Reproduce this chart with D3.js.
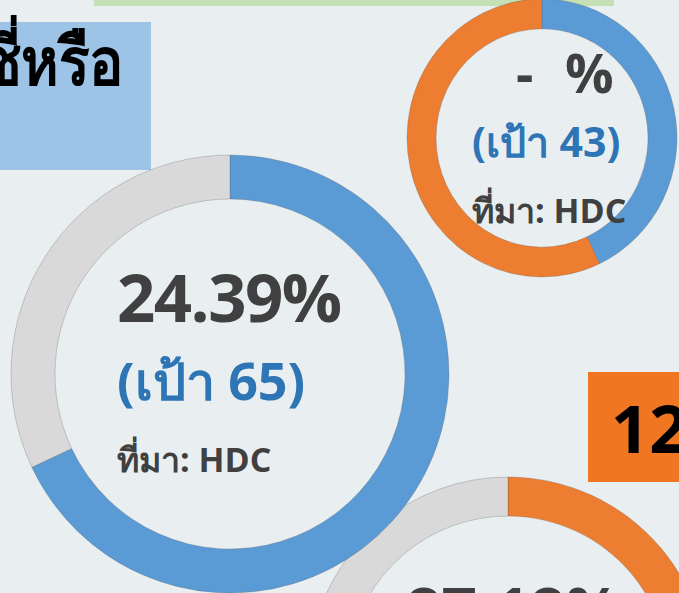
<!DOCTYPE html>
<html>
<head>
<meta charset="utf-8">
<script src="https://cdn.jsdelivr.net/npm/d3@7/dist/d3.min.js"></script>
<style>
  html, body { margin: 0; padding: 0; background: #e9eef0; }
  svg { display: block; }
  text { font-family: "Open Sans", "Noto Sans", sans-serif; font-weight: 700; }
</style>
</head>
<body>
<svg id="chart" width="679" height="593"></svg>
<script>
// ---- data ----
const mainDonutValues = [68, 32];          // blue achieved, gray remainder
const mainDonutColors = ["#5b9bd5", "#d9d9d9"];
const mainLabel = "24.39%";
const mainTarget = "(เป้า 65)";

const smallDonutValues = [43, 57];         // blue, orange
const smallDonutColors = ["#5b9bd5", "#ed7d31"];
const smallTarget = "(เป้า 43)";

const bottomDonutValues = [55, 45];        // orange, gray
const bottomDonutColors = ["#ed7d31", "#d9d9d9"];
const bottomLabel = "87.18%";

const sourceLabel = "ที่มา: HDC";
const headerText = "ซี่หรือ";
const badgeText = "12";

const svg = d3.select("#chart");
svg.append("rect").attr("width", 679).attr("height", 593).attr("fill", "#e9eef0");

// top green bar
svg.append("rect").attr("x", 94).attr("y", 0).attr("width", 520).attr("height", 6).attr("fill", "#c5e0b4");

// blue header box
svg.append("rect").attr("x", 0).attr("y", 22).attr("width", 151).attr("height", 148).attr("fill", "#9dc3e6");
svg.append("text").attr("transform", "translate(123,85) scale(0.92,1.08)").attr("text-anchor", "end")
  .attr("font-size", 62).attr("fill", "#000").text(headerText);

// orange badge
svg.append("rect").attr("x", 588).attr("y", 372).attr("width", 100).attr("height", 110).attr("fill", "#f07622");
svg.append("text").attr("x", 611).attr("y", 453).attr("font-family", "Lato, 'Open Sans', sans-serif")
  .attr("font-size", 67).attr("fill", "#000").text(badgeText);

const pie = d3.pie().sort(null).value(d => d);

function donut(cx, cy, rOuter, rInner, values, colors, sy) {
  const g = svg.append("g").attr("transform", `translate(${cx},${cy}) scale(1,${sy || 1})`);
  const arc = d3.arc().innerRadius(rInner).outerRadius(rOuter);
  g.selectAll("path").data(pie(values)).join("path")
    .attr("d", arc)
    .attr("fill", (d, i) => colors[i])
    .attr("stroke", "rgba(90,90,90,0.35)")
    .attr("stroke-width", 0.8);
  return g;
}

// bottom donut (drawn first, behind)
donut(508, 677, 200, 161, bottomDonutValues, bottomDonutColors);
// main donut
donut(230, 374, 219, 175, mainDonutValues, mainDonutColors);
// small top-right donut
donut(542, 138, 135, 106, smallDonutValues, smallDonutColors, 139 / 135);

// main donut labels
svg.append("text").attr("x", 117).attr("y", 322).attr("font-size", 67).attr("letter-spacing", -1.5)
  .attr("fill", "#404040").text(mainLabel);
svg.append("text").attr("x", 117).attr("y", 400).attr("font-size", 52).attr("fill", "#2e75b6").text(mainTarget);
svg.append("text").attr("x", 117).attr("y", 472).attr("font-size", 34).attr("fill", "#404040").text(sourceLabel);

// small donut labels
const pct = svg.append("text").attr("y", 93).attr("font-size", 54).attr("fill", "#404040");
pct.append("tspan").attr("x", 516).text("-");
pct.append("tspan").attr("x", 565).text("%");
svg.append("text").attr("x", 472).attr("y", 157).attr("font-size", 41).attr("fill", "#2e75b6").text(smallTarget);
svg.append("text").attr("x", 472).attr("y", 223).attr("font-size", 34).attr("fill", "#404040").text(sourceLabel);

// bottom donut label (mostly cut off)
svg.append("text").attr("x", 406).attr("y", 633).attr("font-size", 62).attr("fill", "#404040").text(bottomLabel);
</script>
</body>
</html>
